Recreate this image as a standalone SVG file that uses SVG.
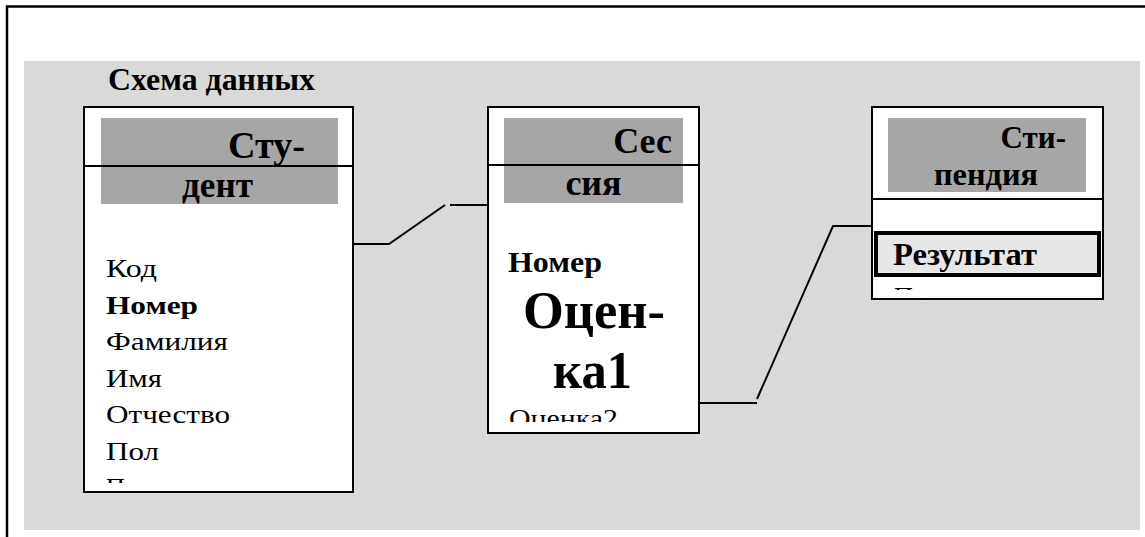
<svg xmlns="http://www.w3.org/2000/svg" width="1145" height="537" viewBox="0 0 1145 537" font-family="'Liberation Serif', 'DejaVu Serif', serif">
<style>
.box{fill:#ffffff;stroke:#000;stroke-width:2}
.hdr{fill:#a6a6a6}
text{font-family:'Liberation Serif','DejaVu Serif',serif;fill:#000}
.b{font-weight:bold}
.conn{fill:none;stroke:#000;stroke-width:2}
</style>
<defs>
<clipPath id="c1"><rect x="85" y="167" width="267" height="316"/></clipPath>
<clipPath id="c2"><rect x="489" y="166" width="209" height="256"/></clipPath>
<clipPath id="c3"><rect x="873" y="200" width="229" height="90"/></clipPath>
</defs>
<rect x="0" y="0" width="1145" height="537" fill="#ffffff"/>
<rect x="24" y="61" width="1116" height="469" fill="#d9d9d9"/>
<path d="M7,537 V6.5 H1145" fill="none" stroke="#000" stroke-width="2.5"/>
<text class="b" x="108" y="90" font-size="31" textLength="207" lengthAdjust="spacingAndGlyphs">Схема данных</text>

<g id="student">
<rect class="box" x="84" y="107" width="269" height="385"/>
<rect class="hdr" x="101" y="118" width="237" height="86"/>
<line x1="84" y1="166" x2="353" y2="166" stroke="#000" stroke-width="2"/>
<text class="b" x="228" y="158" font-size="37" textLength="77" lengthAdjust="spacingAndGlyphs">Сту-</text>
<text class="b" x="182" y="197" font-size="36" textLength="71" lengthAdjust="spacingAndGlyphs">дент</text>
<g clip-path="url(#c1)" font-size="26">
<text x="106" y="277" textLength="51" lengthAdjust="spacingAndGlyphs">Код</text>
<text x="106" y="313.5" class="b" textLength="92" lengthAdjust="spacingAndGlyphs">Номер</text>
<text x="106" y="350" textLength="122" lengthAdjust="spacingAndGlyphs">Фамилия</text>
<text x="106" y="386.5" textLength="56" lengthAdjust="spacingAndGlyphs">Имя</text>
<text x="106" y="423" textLength="124" lengthAdjust="spacingAndGlyphs">Отчество</text>
<text x="106" y="459.5" textLength="53" lengthAdjust="spacingAndGlyphs">Пол</text>
<text x="106" y="496">П</text>
</g>
</g>

<g id="session">
<rect class="box" x="488" y="107" width="211" height="326"/>
<rect class="hdr" x="504" y="118" width="179" height="85"/>
<line x1="488" y1="165" x2="699" y2="165" stroke="#000" stroke-width="2"/>
<text class="b" x="672" y="153" font-size="36" text-anchor="end">Сес</text>
<text class="b" x="593.5" y="195" font-size="36" text-anchor="middle">сия</text>
<g clip-path="url(#c2)">
<text x="508" y="272" font-size="29" class="b" textLength="94" lengthAdjust="spacingAndGlyphs">Номер</text>
<text x="523" y="328" font-size="52" class="b" textLength="142" lengthAdjust="spacingAndGlyphs">Оцен-</text>
<text x="553" y="388" font-size="52" class="b" textLength="79" lengthAdjust="spacingAndGlyphs">ка1</text>
<text x="509" y="427" font-size="26" textLength="109" lengthAdjust="spacingAndGlyphs">Оценка2</text>
</g>
</g>

<g id="stipend">
<rect class="box" x="872" y="107" width="231" height="192"/>
<rect class="hdr" x="888" y="118" width="198" height="74"/>
<line x1="872" y1="199" x2="1103" y2="199" stroke="#000" stroke-width="2"/>
<text class="b" x="1066" y="148" font-size="31" text-anchor="end">Сти-</text>
<text class="b" x="934" y="185" font-size="31" textLength="104" lengthAdjust="spacingAndGlyphs">пендия</text>
<rect x="876" y="233" width="223" height="42" fill="#e6e6e6" stroke="#000" stroke-width="4"/>
<text class="b" x="893" y="265" font-size="31" textLength="144" lengthAdjust="spacingAndGlyphs">Результат</text>
<g clip-path="url(#c3)">
<text x="894" y="305" font-size="26">П</text>
</g>
</g>

<g id="connectors" class="conn">
<polyline points="353,244 389,244 445,205"/>
<polyline points="450,205 488,205"/>
<polyline points="699,403 757,403"/>
<polyline points="757,399 833,226 872,226"/>
</g>
</svg>
